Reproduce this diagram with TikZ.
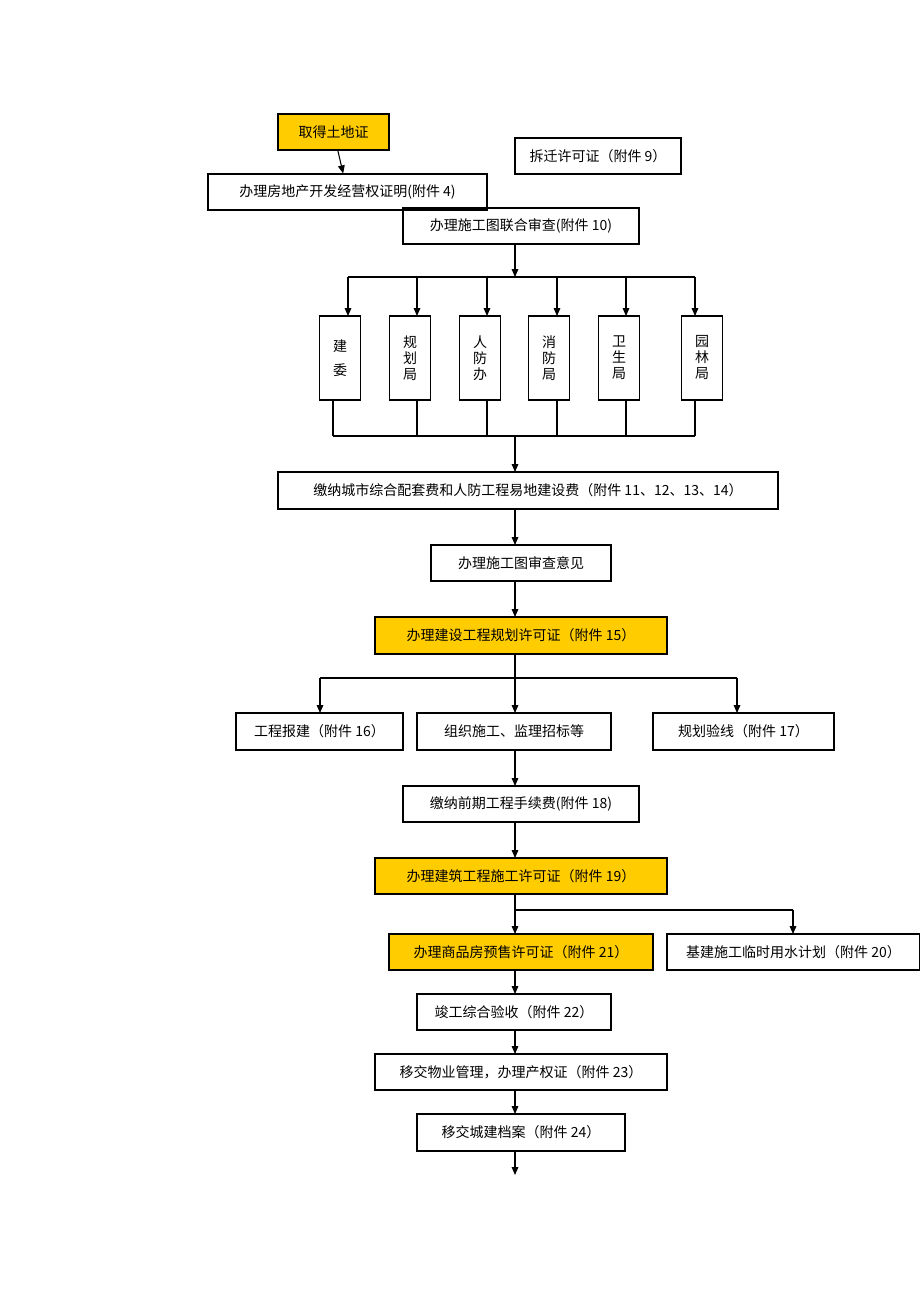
\documentclass[tikz,border=0pt]{standalone}
\usepackage{fontspec}
\setmainfont{Liberation Serif}
\newfontfamily\cjk{Noto Sans CJK SC}
\usetikzlibrary{arrows.meta}
\definecolor{permit}{RGB}{255,204,0}
\tikzset{
  box/.style={draw, line width=0.8pt, inner sep=0pt, font=\cjk\fontsize{10.5}{12}\selectfont},
  hot/.style={box, fill=permit},
  arr/.style={-{Triangle[length=6pt,width=5pt]}, line width=0.8pt},
  ln/.style={line width=0.8pt}
}
\begin{document}
\begin{tikzpicture}[x=0.75pt,y=0.75pt,yscale=-1,xscale=1]
\useasboundingbox (0,0) rectangle (920,1302);
% top
\node[hot, minimum width=111*0.75pt, minimum height=36*0.75pt] (land) at (333.5,132) {取得土地证};
\node[box, minimum width=166*0.75pt, minimum height=36*0.75pt] (demol) at (598,156) {拆迁许可证（附件 9）};
\node[box, minimum width=279*0.75pt, minimum height=36*0.75pt] (qual) at (347.5,192) {办理房地产开发经营权证明(附件 4)};
\node[box, minimum width=236*0.75pt, minimum height=36*0.75pt] (joint) at (521,226) {办理施工图联合审查(附件 10)};
\draw[arr] (land) -- (qual);
% six departments
\coordinate (split) at (515,277);
\coordinate (merge) at (515,436);
\draw[arr] (515,244) -- (split);
\draw[ln] (348,277) -- (695,277);
\foreach \n/\x/\t/\ax in {a/340/{建\\[6pt]委}/348, b/410/{规\\划\\局}/417, c/480/{人\\防\\办}/487, d/549/{消\\防\\局}/557, e/619/{卫\\生\\局}/626, f/702/{园\\林\\局}/695}{
  \node[box, minimum width=41*0.75pt, minimum height=84*0.75pt, align=center] (dep\n) at (\x,358) {\t};
  \draw[arr] (\ax,277) -- (\ax,316);
}
\foreach \ax in {333,417,487,557,626,695}{\draw[ln] (\ax,400) -- (\ax,436);}
\draw[ln] (333,436) -- (695,436);
\node[box, minimum width=500*0.75pt, minimum height=37*0.75pt] (fee) at (528,490.5) {缴纳城市综合配套费和人防工程易地建设费（附件 11、12、13、14）};
\draw[arr] (merge) -- (515,472);
\node[box, minimum width=180*0.75pt, minimum height=36*0.75pt] (opinion) at (521,563) {办理施工图审查意见};
\node[hot, minimum width=292*0.75pt, minimum height=37*0.75pt] (plan) at (521,635.5) {办理建设工程规划许可证（附件 15）};
\draw[arr] (515,509) -- (515,545);
\draw[arr] (515,581) -- (515,617);
% three branches
\draw[ln] (515,654) -- (515,678);
\draw[ln] (320,678) -- (737,678);
\node[box, minimum width=167*0.75pt, minimum height=37*0.75pt] (report) at (319.5,731.5) {工程报建（附件 16）};
\node[box, minimum width=194*0.75pt, minimum height=37*0.75pt] (tender) at (514,731.5) {组织施工、监理招标等};
\node[box, minimum width=181*0.75pt, minimum height=37*0.75pt] (line) at (743.5,731.5) {规划验线（附件 17）};
\draw[arr] (320,678) -- (320,713);
\draw[arr] (515,678) -- (515,713);
\draw[arr] (737,678) -- (737,713);
\node[box, minimum width=236*0.75pt, minimum height=36*0.75pt] (pre) at (521,804) {缴纳前期工程手续费(附件 18)};
\node[hot, minimum width=292*0.75pt, minimum height=36*0.75pt] (build) at (521,876) {办理建筑工程施工许可证（附件 19）};
\draw[arr] (515,750) -- (515,786);
\draw[arr] (515,822) -- (515,858);
\node[hot, minimum width=264*0.75pt, minimum height=36*0.75pt] (sale) at (521,952) {办理商品房预售许可证（附件 21）};
\node[box, minimum width=253*0.75pt, minimum height=36*0.75pt] (water) at (793.5,952) {基建施工临时用水计划（附件 20）};
\draw[arr] (515,894) -- (515,934);
\draw[ln] (515,910) -- (793,910);
\draw[arr] (793,910) -- (793,934);
\node[box, minimum width=194*0.75pt, minimum height=36*0.75pt] (accept) at (514,1012) {竣工综合验收（附件 22）};
\node[box, minimum width=292*0.75pt, minimum height=36*0.75pt] (prop) at (521,1072) {移交物业管理，办理产权证（附件 23）};
\node[box, minimum width=208*0.75pt, minimum height=37*0.75pt] (arch) at (521,1132.5) {移交城建档案（附件 24）};
\coordinate (end) at (515,1175);
\draw[arr] (515,970) -- (515,994);
\draw[arr] (515,1030) -- (515,1054);
\draw[arr] (515,1090) -- (515,1114);
\draw[arr] (515,1151) -- (end);
\end{tikzpicture}
\end{document}
